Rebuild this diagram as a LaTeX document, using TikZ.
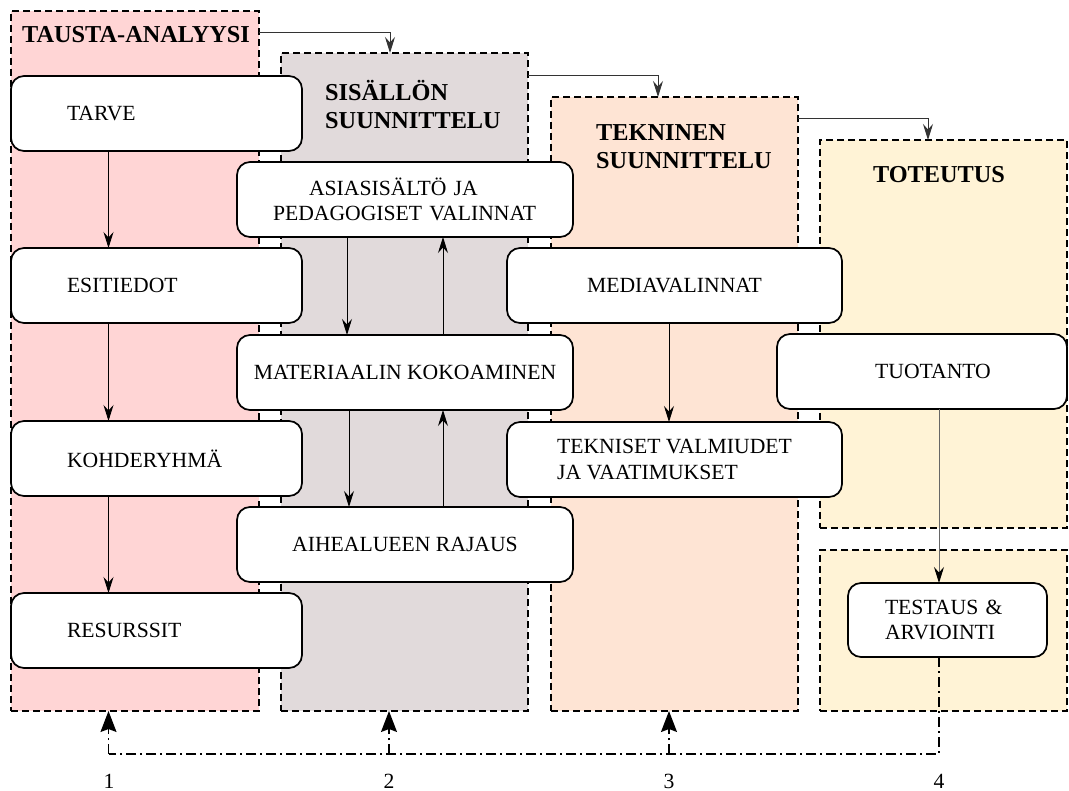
\documentclass[tikz,border=0pt]{standalone}
\usepackage{fontspec}
\setmainfont{Liberation Serif}
\usetikzlibrary{arrows.meta}

% phase panel fills
\definecolor{phaseA}{RGB}{255,213,213}
\definecolor{phaseB}{RGB}{225,218,219}
\definecolor{phaseC}{RGB}{254,228,212}
\definecolor{phaseD}{RGB}{255,243,214}

\begin{document}
\begin{tikzpicture}[x=1pt, y=-1pt,
  phase/.style={draw, line width=1.6pt, dash pattern=on 7pt off 4pt,
    anchor=north west, inner sep=0pt, outer sep=0pt},
  stage/.style={draw, line width=1.7pt, fill=white, rounded corners=13pt,
    anchor=north west, inner sep=0pt, outer sep=0pt, minimum height=75pt,
    font=\fontsize{21.65}{25.5}\selectfont},
  heading/.style={font=\bfseries\fontsize{24.3}{28}\selectfont,
    inner sep=0pt, align=left},
  flow/.style={line width=0.9pt, -{Stealth[length=16pt,width=10pt,inset=5.5pt]}},
  link/.style={flow, draw=black!80},
  feedback/.style={line width=1.3pt, dash pattern=on 10pt off 4pt on 2pt off 4pt},
  backarrow/.style={feedback, -{Stealth[length=21pt,width=16pt,inset=3pt]}},
  stepnum/.style={font=\fontsize{21.65}{25}\selectfont, anchor=base, inner sep=0pt}
]
\useasboundingbox (0,0) rectangle (1069,791);
\fill[white] (0,0) rectangle (1069,791);

% phase panels
\node[phase, fill=phaseA, minimum width=248pt, minimum height=700pt] (p1) at (11,11) {};
\node[phase, fill=phaseB, minimum width=247pt, minimum height=658pt] (p2) at (281,53) {};
\node[phase, fill=phaseC, minimum width=247pt, minimum height=614pt] (p3) at (551,97) {};
\node[phase, fill=phaseD, minimum width=247pt, minimum height=388pt] (p4) at (820,140) {};
\node[phase, fill=phaseD, minimum width=247pt, minimum height=161pt] (p5) at (820,550) {};

% phase headings
\node[heading, anchor=base west] (h1) at (22,43) {TAUSTA-ANALYYSI};
\node[heading, anchor=north west] (h2) at (325,80) {SISÄLLÖN\\SUUNNITTELU};
\node[heading, anchor=north west] (h3) at (596,124) {TEKNINEN\\SUUNNITTELU};
\node[heading, anchor=base] (h4) at (939,183) {TOTEUTUS};

% links between phases
\draw[link] ([yshift=-21pt]p1.north east) -| ([xshift=109pt]p2.north west);
\draw[link] ([yshift=-22pt]p2.north east) -| ([xshift=107pt]p3.north west);
\draw[link] ([yshift=-21pt]p3.north east) -| ([xshift=108pt]p4.north west);

% steps
\node[stage, minimum width=291pt, text width=179pt, align=left] (tarve) at (11,76) {TARVE};
\node[stage, minimum width=291pt, text width=179pt, align=left] (esit) at (11,248) {ESITIEDOT};
\node[stage, minimum width=291pt, text width=179pt, align=left] (kohde) at (11,421) {KOHDERYHMÄ};
\node[stage, minimum width=291pt, text width=179pt, align=left] (resur) at (11,593) {RESURSSIT};

\node[stage, minimum width=336pt, text width=264pt, align=left] (asia) at (237,162)
  {\hspace*{36pt}ASIASISÄLTÖ JA\\PEDAGOGISET VALINNAT};
\node[stage, minimum width=336pt] (mat) at (237,335) {MATERIAALIN KOKOAMINEN};
\node[stage, minimum width=336pt] (aihe) at (237,507) {AIHEALUEEN RAJAUS};

\node[stage, minimum width=335pt] (media) at (507,248) {MEDIAVALINNAT};
\node[stage, minimum width=335pt, align=left] (tekn) at (507,422)
  {TEKNISET VALMIUDET\\JA VAATIMUKSET};

\node[stage, minimum width=290pt] (tuot) at (777,334) {\hspace*{22pt}TUOTANTO};
\node[stage, minimum width=199pt, minimum height=74pt, text width=125pt, align=left] (test) at (848,583)
  {TESTAUS \&\\ARVIOINTI};

% columns of the vertical connectors
\coordinate (xA) at (108.5,0);
\coordinate (xBd) at (347,0);
\coordinate (xBe) at (349,0);
\coordinate (xBu) at (443,0);
\coordinate (xB) at (389,0);
\coordinate (xC) at (669,0);
\coordinate (xD) at (939,0);
\coordinate (rail) at (0,754);

\draw[flow] (tarve.south -| xA) -- (esit.north -| xA);
\draw[flow] (esit.south -| xA) -- (kohde.north -| xA);
\draw[flow] (kohde.south -| xA) -- (resur.north -| xA);

\draw[flow] (asia.south -| xBd) -- (mat.north -| xBd);
\draw[flow] (mat.north -| xBu) -- (asia.south -| xBu);
\draw[flow] (mat.south -| xBe) -- (aihe.north -| xBe);
\draw[flow] (aihe.north -| xBu) -- (mat.south -| xBu);

\draw[flow] (media.south -| xC) -- (tekn.north -| xC);
\draw[line width=0.9pt, draw=black!60, -{Stealth[length=16pt,width=10pt,inset=5.5pt,black]}]
  (tuot.south -| xD) -- (test.north -| xD);

% feedback rail
\draw[feedback] (test.south -| xD) -- (xD |- rail) -- (xA |- rail);
\draw[backarrow] (xA |- rail) -- (p1.south -| xA);
\draw[backarrow] (xB |- rail) -- (p2.south -| xB);
\draw[backarrow] (xC |- rail) -- (p3.south -| xC);

% step numbers
\node[stepnum] (n1) at (109,788) {1};
\node[stepnum] (n2) at (389,788) {2};
\node[stepnum] (n3) at (669,788) {3};
\node[stepnum] (n4) at (939,788) {4};
\end{tikzpicture}
\end{document}
